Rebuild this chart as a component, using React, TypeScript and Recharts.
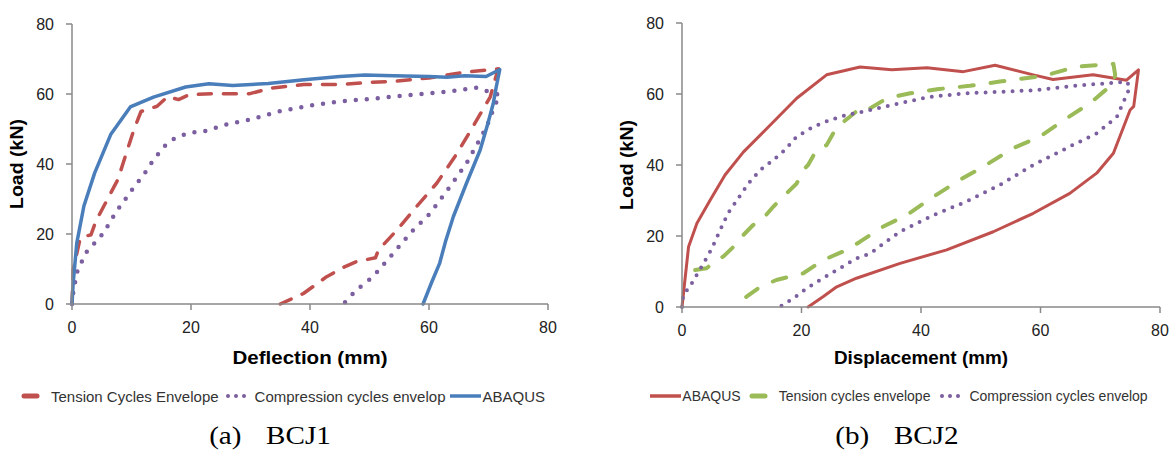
import React from "react";
import { LineChart, Line, XAxis, YAxis, Legend, Label } from "recharts";

// axis ticks shared by both panels
const X_TICKS = [0, 20, 40, 60, 80];
const Y_TICKS = [0, 20, 40, 60, 80];

// (a) BCJ1 - [deflection mm, load kN]
const bcj1Tension = [
  [0, 0], [0.2, 9.8], [1.4, 18.9], [3.2, 19.8], [4, 23.6], [7.1, 33.6], [7.7, 35.5], [8.6, 40.3],
  [10.4, 49.8], [11.6, 55], [14.3, 56.5], [16.1, 59.3], [17.9, 58.4], [19.7, 59.8], [23.9, 60.1],
  [29.9, 60.1], [33.5, 61.7], [39, 62.7], [45, 62.7], [49.8, 63.3], [54, 63.6], [60, 64.6], [66, 66.2],
  [71.7, 67.2], [71.4, 65.9], [70.3, 59.2], [67.4, 50.7], [64.7, 43], [61.3, 34.5], [57.9, 27.8],
  [54.6, 21.1], [51.5, 15.4], [51, 13.2], [47.8, 12.1], [45.9, 10.7], [42.8, 7.8], [38.9, 3], [35, 0],
];
const bcj1Compression = [
  [0, 0], [0.2, 3.1], [0.8, 8.9], [2.3, 14.6], [3.8, 17.4], [5.3, 20.3], [6.8, 24.6], [7.7, 27],
  [8.9, 29.8], [10.7, 34.1], [11.9, 36.5], [13.7, 41.2], [15.5, 45], [17.3, 47.4], [19.7, 48.9],
  [22.1, 49.3], [25.7, 51.2], [29.9, 52.7], [34.7, 55], [40.3, 56.8], [45, 57.9], [49.5, 58.5],
  [56.8, 59.7], [64.3, 60.9], [67.9, 61.8], [71.9, 59.7], [71.1, 56.9], [69.7, 50.7], [68, 45.4],
  [66.3, 40.2], [63.5, 33.5], [60.2, 25.9], [57.1, 20.7], [54, 14.5], [50.6, 7.8], [47.8, 4], [45.6, 0],
];
const bcj1Abaqus = [
  [0, 0], [0.2, 6], [0.8, 17.4], [2, 28], [3.8, 37.4], [6.5, 48.4], [9.8, 56.3], [13.7, 59.1],
  [19.1, 62], [23, 62.9], [27, 62.4], [33, 63], [39, 64.1], [45, 65], [49.2, 65.4], [54, 65.2],
  [60, 65], [63, 64.8], [66, 65.2], [69.6, 65], [71.9, 67], [71.3, 62], [70.8, 57.3], [69.8, 51],
  [68.6, 44], [66.3, 34.5], [64.1, 25], [62.8, 18], [61.8, 11.7], [60.4, 6], [59, 0],
];

// (b) BCJ2 - [displacement mm, load kN]
const bcj2Abaqus = [
  [0, 0], [1.1, 17], [2.5, 23.6], [4.7, 30.1], [7.2, 37.2], [10.3, 43.7], [14.2, 50.3], [19.2, 58.8],
  [24.2, 65.4], [29.8, 67.6], [35.1, 66.8], [41, 67.4], [47.1, 66.3], [52.4, 68.1], [58.8, 65.4],
  [62.1, 64.1], [68.8, 65.4], [74.4, 63.9], [76.4, 66.8], [75.6, 56.5], [75, 55.5], [72.2, 43.3],
  [69.4, 37.7], [64.9, 32], [58.8, 26.4], [52.1, 21.2], [44.3, 16.1], [36.5, 12.3], [29.2, 8.1],
  [25.9, 5.7], [23.6, 2.9], [21.1, 0],
];
const bcj2Tension = [
  [2.2, 10.4], [4.1, 10.9], [5.8, 13.2], [6.9, 14.2], [9.2, 17.9], [10, 19.8], [11.9, 23.1],
  [13.1, 24], [15.3, 28.3], [16.1, 29.7], [18.1, 33], [19.2, 34.8], [20.3, 38.6], [21.1, 40],
  [22.5, 44.2], [24.2, 45.6], [25.3, 48.9], [26.4, 51.3], [28.1, 53.6], [30.1, 56.4], [31.5, 56],
  [33.5, 58], [35.7, 59.3], [38.2, 60.2], [43, 61.4], [48.2, 62.3], [53.2, 63.5], [60.5, 65.1],
  [66.1, 67.7], [72.2, 68.5], [72.5, 65.4], [72.2, 63], [68.3, 57.4], [64.4, 53.2], [59.9, 48],
  [55.4, 44.7], [50.4, 39.5], [46.5, 35.8], [42.1, 31.1], [37.6, 25.9], [33.5, 22.5], [29.8, 18.4],
  [27.6, 16.1], [23.6, 13.2], [20.3, 9.5], [15.8, 7.6], [13.1, 5.7], [10.8, 2.9], [8.6, 0.6],
];
const bcj2Compression = [
  [0, 0], [0.2, 3.4], [1.3, 5.7], [3.6, 12.3], [5, 16.5], [6.4, 21.7], [7.7, 26.4], [9.2, 30.1],
  [11.1, 34.8], [13.1, 38.6], [15.3, 41.4], [17.2, 44.2], [19.2, 48], [22, 50.8], [24.8, 52.7],
  [27.6, 54.1], [30.3, 55], [36.5, 57.4], [41.5, 59.2], [47.6, 60.2], [53.2, 60.6], [59.4, 61.1],
  [65.5, 62.3], [71.1, 63], [74.4, 63.5], [75, 62], [72.8, 53.6], [69.4, 48.9], [64.9, 45.2],
  [58.8, 40], [53.2, 34.4], [47.6, 29.7], [42.1, 25.9], [36.5, 21.2], [34, 18.2], [31.5, 15.1],
  [29.2, 13.7], [26.4, 10.9], [23.6, 8.1], [20.9, 5.3], [18.6, 2.4], [16.3, 0],
];

const BLUE = "#4a7ebb";
const RED = "#c0504d";
const PURPLE = "#7b5fa0";
const GREEN = "#9bbb59";
const AXIS = "#898989";

const toRows = (pts: number[][]) => pts.map(([x, y]) => ({ x, y }));

type Series = {
  name: string;
  pts: number[][];
  color: string;
  width: number;
  dash?: string;
  kind: "dash" | "dots" | "line";
};

const bcj1Series: Series[] = [
  { name: "Tension Cycles Envelope", pts: bcj1Tension, color: RED, width: 3.5, dash: "13 12", kind: "dash" },
  { name: "Compression cycles envelop", pts: bcj1Compression, color: PURPLE, width: 4.5, dash: "0 11", kind: "dots" },
  { name: "ABAQUS", pts: bcj1Abaqus, color: BLUE, width: 3.5, kind: "line" },
];

const bcj2Series: Series[] = [
  { name: "ABAQUS", pts: bcj2Abaqus, color: RED, width: 3, kind: "line" },
  { name: "Tension cycles envelope", pts: bcj2Tension, color: GREEN, width: 4, dash: "14 17", kind: "dash" },
  { name: "Compression cycles envelop", pts: bcj2Compression, color: PURPLE, width: 4, dash: "0 9", kind: "dots" },
];

const LegendIcon = ({ s }: { s: Series }) => {
  if (s.kind === "dots") {
    return (
      <svg width={24} height={10} style={{ marginRight: 7 }}>
        {[4, 12, 20].map((cx) => <circle key={cx} cx={cx} cy={5} r={2} fill={s.color} />)}
      </svg>
    );
  }
  if (s.kind === "dash") {
    return (
      <svg width={19} height={10} style={{ marginRight: 11 }}>
        <line x1={3} y1={5} x2={16} y2={5} stroke={s.color} strokeWidth={5} strokeLinecap="round" />
      </svg>
    );
  }
  return (
    <svg width={31} height={10} style={{ marginRight: 1 }}>
      <line x1={0} y1={5} x2={31} y2={5} stroke={s.color} strokeWidth={3.5} />
    </svg>
  );
};

// keep the legend in the series order, not the order recharts hands back
const makeLegend = (series: Series[], fontSize: number, shift: number, gap: number) => (props: any) => {
  const shown = new Set((props.payload || []).map((p: any) => p.value));
  return (
    <div
      style={{
        height: 26,
        display: "flex",
        justifyContent: "center",
        alignItems: "center",
        gap,
        transform: `translateX(${shift}px)`,
        fontFamily: "'Liberation Sans', Arial, sans-serif",
        fontSize,
        color: "#333",
        whiteSpace: "nowrap",
      }}
    >
      {series
        .filter((s) => shown.has(s.name))
        .map((s) => (
          <div key={s.name} style={{ display: "flex", alignItems: "center" }}>
            <LegendIcon s={s} />
            <span>{s.name}</span>
          </div>
        ))}
    </div>
  );
};

const yTitle = (props: any) => {
  const vb = props.viewBox || {};
  const cy = (vb.y ?? 24) + (vb.height ?? 280) / 2;
  const len = 90;
  return (
    <text
      x={17 - len / 2}
      y={cy}
      transform={`rotate(-90, 17, ${cy})`}
      dominantBaseline="central"
      fontFamily="'Liberation Sans', Arial, sans-serif"
      fontWeight="bold"
      fontSize={18}
      fill="#000"
      textLength={len}
      lengthAdjust="spacingAndGlyphs"
    >
      Load (kN)
    </text>
  );
};

const xTitle = (text: string, len: number) => (props: any) => {
  const vb = props.viewBox || {};
  const cx = (vb.x ?? 72) + (vb.width ?? 476) / 2;
  return (
    <text
      x={cx - len / 2}
      y={358}
      dominantBaseline="central"
      fontFamily="'Liberation Sans', Arial, sans-serif"
      fontWeight="bold"
      fontSize={18}
      fill="#000"
      textLength={len}
      lengthAdjust="spacingAndGlyphs"
    >
      {text}
    </text>
  );
};

type PanelProps = {
  series: Series[];
  width: number;
  top: number;
  bottom: number;
  right: number;
  xTitleText: string;
  xTitleLen: number;
  legendFont: number;
  legendShift: number;
  legendGap: number;
};

const CHART_H = 413;
const LEGEND_H = 26;

const Panel = ({ series, width, top, bottom, right, xTitleText, xTitleLen, legendFont, legendShift, legendGap }: PanelProps) => {
  const tick = { fill: "#222", fontSize: 16, fontFamily: "'Liberation Sans', Arial, sans-serif" };
  return (
    <LineChart width={width} height={CHART_H} margin={{ top, right, bottom: 4, left: 12 }}>
      <XAxis
        type="number"
        dataKey="x"
        domain={[0, 80]}
        ticks={X_TICKS}
        tick={tick}
        tickSize={6}
        tickMargin={12}
        axisLine={{ stroke: AXIS, strokeWidth: 1.5 }}
        tickLine={{ stroke: AXIS, strokeWidth: 1.5 }}
        height={CHART_H - 4 - LEGEND_H - bottom}
      >
        <Label content={xTitle(xTitleText, xTitleLen)} />
      </XAxis>
      <YAxis
        type="number"
        dataKey="y"
        domain={[0, 80]}
        ticks={Y_TICKS}
        tick={tick}
        tickSize={6}
        tickMargin={12}
        width={60}
        axisLine={{ stroke: AXIS, strokeWidth: 1.5 }}
        tickLine={{ stroke: AXIS, strokeWidth: 1.5 }}
      >
        <Label content={yTitle} />
      </YAxis>
      {series.map((s) => (
        <Line
          key={s.name}
          name={s.name}
          data={toRows(s.pts)}
          dataKey="y"
          type="linear"
          stroke={s.color}
          strokeWidth={s.width}
          strokeDasharray={s.dash}
          strokeLinecap="round"
          strokeLinejoin="round"
          dot={false}
          activeDot={false}
          isAnimationActive={false}
        />
      ))}
      <Legend verticalAlign="bottom" height={LEGEND_H} content={makeLegend(series, legendFont, legendShift, legendGap)} />
    </LineChart>
  );
};

const Caption = ({ center, tag, name }: { center: number; tag: string; name: string }) => (
  <div
    style={{
      position: "absolute",
      left: center - 150,
      top: 421,
      width: 300,
      height: 30,
      lineHeight: "30px",
      textAlign: "center",
      fontFamily: "'Liberation Serif', 'Times New Roman', serif",
      fontSize: 26,
      color: "#000",
      transform: "scaleX(1.12)",
    }}
  >
    <span>{tag}</span>
    <span style={{ marginLeft: 22 }}>{name}</span>
  </div>
);

export default function App() {
  return (
    <div style={{ position: "absolute", left: 0, top: 0, width: 1171, height: 453, background: "#fff", overflow: "hidden" }}>
      <div style={{ position: "absolute", left: 0, top: 0 }}>
        <Panel
          series={bcj1Series}
          width={560}
          top={24}
          bottom={304}
          right={12}
          xTitleText="Deflection (mm)"
          xTitleLen={155}
          legendFont={15}
          legendShift={3}
          legendGap={5}
        />
      </div>
      <div style={{ position: "absolute", left: 610, top: 0 }}>
        <Panel
          series={bcj2Series}
          width={561}
          top={23}
          bottom={307}
          right={11}
          xTitleText="Displacement (mm)"
          xTitleLen={174}
          legendFont={14}
          legendShift={8}
          legendGap={8}
        />
      </div>
      <Caption center={270} tag="(a)" name="BCJ1" />
      <Caption center={897} tag="(b)" name="BCJ2" />
    </div>
  );
}
